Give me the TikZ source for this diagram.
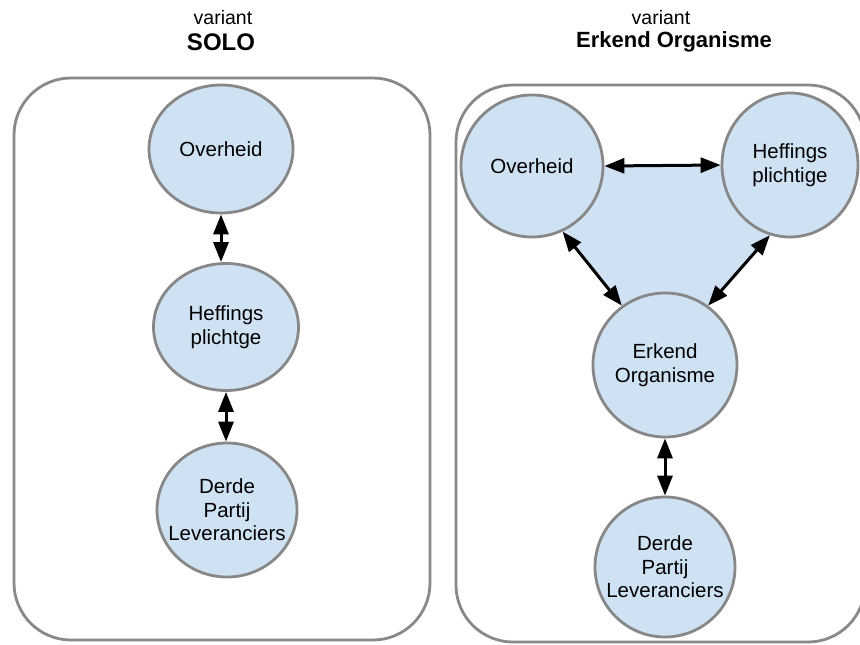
\documentclass[tikz,border=0pt]{standalone}
\usepackage{fontspec}
\setmainfont{Liberation Sans}
\usetikzlibrary{shapes.geometric,arrows.meta,backgrounds}
\definecolor{nodefill}{HTML}{CFE2F3}
\definecolor{nodeline}{HTML}{878787}
\definecolor{panelline}{HTML}{898989}
\tikzset{
  panel/.style={draw=panelline, line width=2.8pt, rounded corners=57pt},
  ent/.style={ellipse, draw=nodeline, fill=nodefill, line width=2.8pt, inner xsep=-12pt, inner ysep=0pt,
              align=center, font=\fontsize{20.5}{23.5}\selectfont},
  tip/.tip={Triangle[length=20pt,width=15pt]},
  rel/.style={line width=3pt, tip-tip},
  small/.style={font=\fontsize{19.5}{22}\selectfont},
  big/.style={font=\bfseries\fontsize{22}{26}\selectfont},
}
\begin{document}
\begin{tikzpicture}[x=1pt,y=-1pt]
\useasboundingbox (0,0) rectangle (860,645);
% titles
\node[small] (t1) at (223,18) {variant};
\node[big, font=\bfseries\fontsize{24}{28}\selectfont] (t2) at (221,42) {SOLO};
\node[small] (t3) at (661,18) {variant};
\node[big] (t4) at (674,42) {Erkend Organisme};
% panels
\draw[panel] (14,78) rectangle (430,640);
\draw[panel] (456,85) rectangle (865,642);
% left panel
\node[ent, minimum width=144pt, minimum height=128pt] (lov) at (221,149) {Overheid};
\node[ent, minimum width=145pt, minimum height=127pt] (lhef) at (226,327) {Heffings\\plichtge};
\node[ent, minimum width=140pt, minimum height=134pt] (lder) at (227,510) {Derde\\Partij\\Leveranciers};
\draw[rel] (lov.south) -- (lov.south |- lhef.north);
\draw[rel] (lhef.south) -- (lhef.south |- lder.north);
% right panel
\node[ent, minimum width=142pt, minimum height=142pt] (rov) at (532,166) {Overheid};
\node[ent, minimum width=136pt, minimum height=144pt] (rhef) at (790,165) {Heffings\\plichtige};
\node[ent, minimum width=144pt, minimum height=144pt] (rerk) at (665,365) {Erkend\\Organisme};
\node[ent, minimum width=140pt, minimum height=140pt] (rder) at (665,567) {Derde\\Partij\\Leveranciers};
\begin{scope}[on background layer]
\fill[nodefill] (rov.east) -- (rhef.west) -- (rhef.-106) -- (rerk.54) -- (rerk.126) -- (rov.-65) -- cycle;
\end{scope}
\draw[rel] (rov.east) -- (rhef.west);
\draw[rel] (rov.-65) -- (rerk.126);
\draw[rel] (rhef.-106) -- (rerk.54);
\draw[rel] (rerk.south) -- (rder.north);
\end{tikzpicture}
\end{document}
